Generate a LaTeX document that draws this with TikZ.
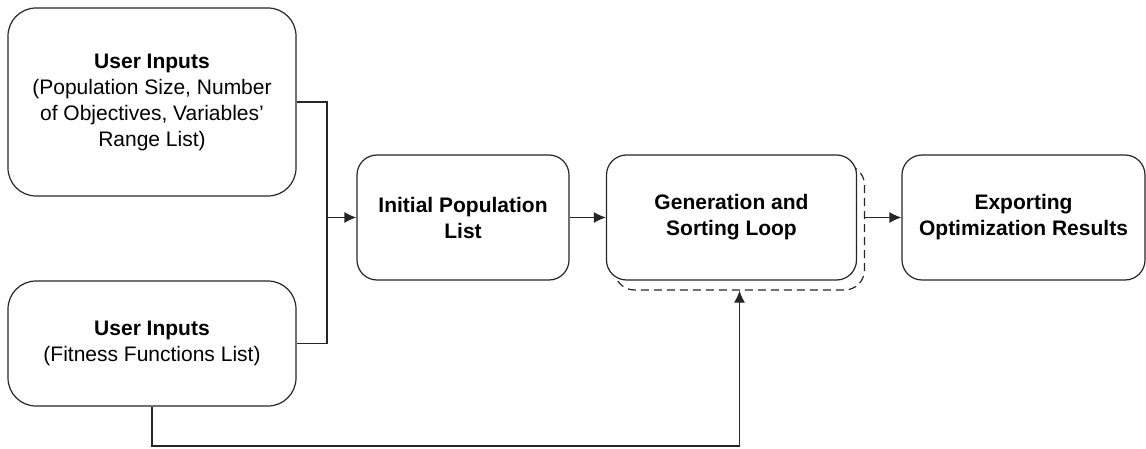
\documentclass[tikz,border=0pt]{standalone}
\usepackage{fontspec}
\setmainfont{Liberation Sans}
\usetikzlibrary{arrows.meta,positioning}
\definecolor{cLine}{HTML}{262626}
\tikzset{
  arrow/.style={-{Latex[length=12pt,width=11pt]}, line width=1.2pt, draw=cLine},
  link/.style={line width=1.2pt, draw=cLine},
  inbox/.style={draw=cLine, line width=1.2pt, rounded corners=28pt, fill=white, align=center, inner sep=0pt, minimum width=288pt, font=\fontsize{21}{26}\selectfont},
  stepbox/.style={draw=cLine, line width=1.2pt, rounded corners=20pt, fill=white, align=center, inner sep=0pt, minimum height=125pt, font=\fontsize{21}{26}\selectfont},
}
\begin{document}
\begin{tikzpicture}[x=1pt,y=-1pt]
        \useasboundingbox (0,0) rectangle (1146,449);
        \node[inbox, minimum height=188pt] (userA) at (152,102){\textbf{User Inputs}\\(Population Size, Number\\of Objectives, Variables’\\Range List)};
        \node[inbox, minimum height=125pt] (userB) at (152,343.5){\textbf{User Inputs}\\(Fitness Functions List)};
        \node[stepbox, minimum width=212pt] (init) at (463,217.5){\textbf{Initial Population}\\\textbf{List}};
        \node[stepbox, minimum width=250pt, fill=none, dashed, dash pattern=on 8pt off 5pt] (loopback) at (739.5,227.5){};
        \node[stepbox, minimum width=250pt] (loop) at (731.5,217.5){\textbf{Generation and}\\\textbf{Sorting Loop}};
        \node[stepbox, minimum width=243pt] (export) at (1023.5,217.5){\textbf{Exporting}\\\textbf{Optimization Results}};
        \coordinate (join) at (327,217.5);
        \coordinate (under) at (739.5,446);
        \draw[link](userA.east) -| (join); \draw[link](userB.east) -| (join);
        \draw[arrow](join) -- (init.west);
        \draw[arrow](init) -- (loop);
        \draw[arrow](loopback.east |- export.west) -- (export.west);
        \draw[arrow](userB.south) |- (under) -- (loopback.south);
      \end{tikzpicture}
\end{document}
